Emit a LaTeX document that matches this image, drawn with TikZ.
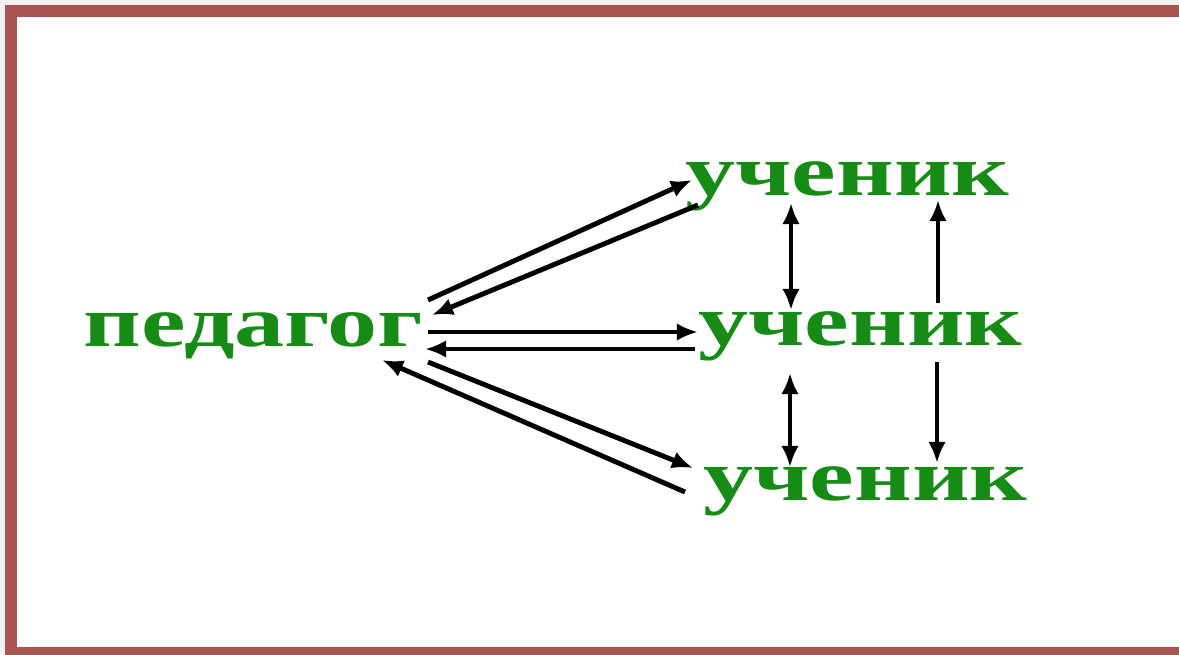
\documentclass[tikz,border=0pt]{standalone}
\usepackage{fontspec}
\newfontfamily\rufont[FakeStretch=1.39]{Liberation Serif}
\usepackage{tikz}
\usetikzlibrary{
    arrows.meta,
    calc
}
\definecolor{slidegreen}{RGB}{22,140,22}
\definecolor{framered}{RGB}{170,84,84}

\begin{document}
\begin{tikzpicture}[x=0.02cm, y=-0.02cm,
        word/.style={anchor=base west, inner sep=0pt, text=slidegreen,
            font=\rufont\bfseries\fontsize{41}{41}\selectfont},
        link/.style={line width=2.8pt, -{Latex[length=12pt,width=10pt]}},
        both/.style={line width=2.8pt, {Latex[length=12pt,width=10pt]}-{Latex[length=12pt,width=10pt]}}]
            \useasboundingbox (0,0) rectangle (1179,654);
            \clip (0,0) rectangle (1179,654);
            \fill[gray!12] (0,0) rectangle (1179,654);
            \fill[white] (5,5) rectangle (1190,660);
            \draw[framered, line width=6.8pt] (11,11) rectangle (1190,653);

            \node[word] (P) at (83,346) {педагог};
            \node[word] (U1) at (685,195) {ученик};
            \node[word] (U2) at (698,345) {ученик};
            \node[word] (U3) at (703,500) {ученик};

            \draw[link] ($(P.base west)+(345,-46)$) to ($(U1.base west)+(7,-15)$);
            \draw[link] ($(U1.base west)+(13,10)$) to ($(P.base west)+(349,-31)$);
            \draw[link] ($(P.base west)+(345,-14)$) to ($(U2.base west)+(0,-13)$);
            \draw[link] ($(U2.base west)+(-3,4)$) to ($(P.base west)+(342,3)$);
            \draw[link] ($(U3.base west)+(-18,-8)$) to ($(P.base west)+(299,14)$);
            \draw[link] ($(P.base west)+(345,16)$) to ($(U3.base west)+(-10,-32)$);

            \draw[both] ($(U1.base west)+(106,8)$) to ($(U2.base west)+(93,-35)$);
            \draw[both] ($(U2.base west)+(92,28)$) to ($(U3.base west)+(87,-33)$);
            \draw[link] ($(U2.base west)+(240,-42)$) to ($(U1.base west)+(253,5)$);
            \draw[link] ($(U2.base west)+(239,17)$) to ($(U3.base west)+(234,-37)$);
        \end{tikzpicture}
\end{document}
